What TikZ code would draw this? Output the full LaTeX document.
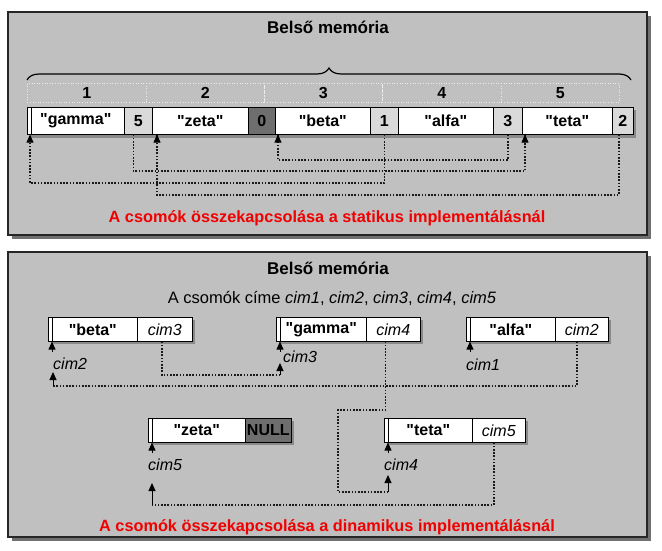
\documentclass[tikz,border=0pt]{standalone}
\usepackage{fontspec}
\setmainfont{Liberation Sans}[Ligatures=TeXOff]
\usetikzlibrary{arrows.meta,decorations.pathreplacing}
\definecolor{panelgray}{HTML}{C0C0C0}
\definecolor{panelshadow}{HTML}{707070}
\definecolor{boxshadow}{HTML}{8A8A8A}
\definecolor{ptrgray}{HTML}{DADADA}
\definecolor{nullgray}{HTML}{6E6E6E}
\definecolor{capred}{HTML}{F00000}
\tikzset{
  panel/.style={draw=black!85, line width=1.5pt, fill=panelgray},
  heading/.style={font=\bfseries\fontsize{17}{20}\selectfont},
  redcap/.style={text=capred, font=\bfseries\fontsize{16.3}{20}\selectfont},
  idx/.style={draw=white!70!panelgray, dotted, line width=0.6pt, anchor=north west,
    minimum height=19pt, inner sep=0pt, font=\bfseries\fontsize{16}{19}\selectfont},
  cell/.style={draw=black, line width=0.6pt, fill=white, anchor=north west,
    minimum height=27pt, inner sep=0pt, font=\bfseries\fontsize{16}{19}\selectfont},
  ptrcell/.style={cell, fill=ptrgray},
  nullcell/.style={cell, fill=nullgray},
  bcell/.style={cell, minimum height=24pt},
  baddr/.style={bcell, font=\itshape\fontsize{16}{19}\selectfont},
  addr/.style={anchor=west, inner sep=0pt, font=\itshape\fontsize{16}{19}\selectfont},
  link/.style={draw=black!90, line width=1.6pt, dash pattern=on 1.6pt off 1.6pt},
  ptrarrow/.style={line width=1pt, -{Triangle[length=8pt,width=7pt]}},
  brace/.style={decorate, decoration={brace, amplitude=12pt, aspect=0.5}, line width=1.2pt}
}
\begin{document}
\begin{tikzpicture}[x=1pt,y=-1pt]
\useasboundingbox (0,0) rectangle (662,551);
% the two panels
\fill[panelshadow] (12,16) rectangle (651,239);
\draw[panel] (8,12) rectangle (647,235);
\fill[panelshadow] (12,256) rectangle (651,541);
\draw[panel] (8,252) rectangle (647,537);

% static implementation
\node[heading] (ttl1) at (328,27) {Belső memória};
\draw[brace] (27,80) -- (631,80);
\node[idx, minimum width=119pt] (i1) at (27,83) {1};
\node[idx, minimum width=118pt] (i2) at (146,83) {2};
\node[idx, minimum width=118pt] (i3) at (264,83) {3};
\node[idx, minimum width=119pt] (i4) at (382,83) {4};
\node[idx, minimum width=118pt] (i5) at (501,83) {5};

\fill[boxshadow] (30,110) rectangle (636,138);
\node[cell, minimum width=97pt] (gamma) at (27,107) {"gamma"};
\node[ptrcell, minimum width=28pt] (p5) at (124,107) {5};
\node[cell, minimum width=96pt] (zeta) at (152,107) {"zeta"};
\node[nullcell, minimum width=27pt] (p0) at (248,107) {0};
\node[cell, minimum width=95pt] (beta) at (275,107) {"beta"};
\node[ptrcell, minimum width=28pt] (p1) at (370,107) {1};
\node[cell, minimum width=95pt] (alfa) at (398,107) {"alfa"};
\node[ptrcell, minimum width=29pt] (p3) at (493,107) {3};
\node[cell, minimum width=90pt] (teta) at (522,107) {"teta"};
\node[ptrcell, minimum width=21pt] (p2) at (612,107) {2};
\draw[line width=0.6pt] ([xshift=4pt]gamma.north west) -- ([xshift=4pt]gamma.south west);

\coordinate (tgamma) at ([xshift=3pt]gamma.south west);
\coordinate (tzeta) at ([xshift=5pt]zeta.south west);
\coordinate (tbeta) at ([xshift=3pt]beta.south west);
\coordinate (tteta) at ([xshift=3pt]teta.south west);
\draw[link] ([xshift=-5pt]p5.south) -- ([xshift=-5pt]p5.south |- 0,171) -| (tteta);
\draw[link] (p1.south) -- (p1.south |- 0,183) -| (tgamma);
\draw[link] (p3.south) -- (p3.south |- 0,160) -| (tbeta);
\draw[link] ([xshift=-4pt]p2.south) -- ([xshift=-4pt]p2.south |- 0,195) -| (tzeta);
\foreach \t in {tgamma,tzeta,tbeta,tteta}
  \draw[ptrarrow] ([yshift=-4pt]\t) -- (\t);
\node[redcap] (cap1) at (327,218) {A csomók összekapcsolása a statikus implementálásnál};

% dynamic implementation
\node[heading] (ttl2) at (328,268) {Belső memória};
\node[font=\fontsize{16.5}{19}\selectfont] (sub2) at (332,298)
  {A csomók címe \textit{cim1}, \textit{cim2}, \textit{cim3}, \textit{cim4}, \textit{cim5}};

\fill[boxshadow] (51,320) rectangle (195,344);
\node[bcell, minimum width=89pt] (bbeta) at (48,317) {"beta"};
\node[baddr, minimum width=55pt] (pbeta) at (137,317) {cim3};
\fill[boxshadow] (279,320) rectangle (423,344);
\node[bcell, minimum width=90pt] (bgamma) at (276,317) {"gamma"};
\node[baddr, minimum width=54pt] (pgamma) at (366,317) {cim4};
\fill[boxshadow] (469,320) rectangle (611,344);
\node[bcell, minimum width=89pt] (balfa) at (466,317) {"alfa"};
\node[baddr, minimum width=53pt] (palfa) at (555,317) {cim2};
\fill[boxshadow] (151,421) rectangle (294,445);
\node[bcell, minimum width=97pt] (bzeta) at (148,418) {"zeta"};
\node[nullcell, minimum height=24pt, minimum width=46pt] (pzeta) at (245,418) {NULL};
\fill[boxshadow] (387,421) rectangle (528,445);
\node[bcell, minimum width=88pt] (bteta) at (384,418) {"teta"};
\node[baddr, minimum width=53pt] (pteta) at (472,418) {cim5};
\foreach \b in {bbeta,bgamma,balfa,bzeta,bteta}
  \draw[line width=0.6pt] ([xshift=4pt]\b.north west) -- ([xshift=4pt]\b.south west);

\node[addr] (c2) at (53,364) {cim2};
\node[addr] (c3) at (283,357) {cim3};
\node[addr] (c1) at (466,365) {cim1};
\node[addr] (c5) at (148,465) {cim5};
\node[addr] (c4) at (384,465) {cim4};
\foreach \b in {bbeta,bgamma,balfa,bzeta,bteta}
  \draw[ptrarrow] ([xshift=4pt,yshift=-10pt]\b.south west) -- ([xshift=4pt]\b.south west);

\coordinate (s2) at (53,386);  \coordinate (t2) at (53,372);
\coordinate (s3) at (280,375); \coordinate (t3) at (280,363);
\coordinate (s4) at (388,492); \coordinate (t4) at (388,475);
\coordinate (s5) at (152,505); \coordinate (t5) at (152,483);
\draw[link] ([xshift=-5pt]palfa.south) |- (s2);
\draw[link] ([xshift=-3pt]pbeta.south) |- (s3);
\draw[link] ([xshift=-8pt]pgamma.south) |- (338,410) |- (s4);
\draw[link] ([xshift=-5pt]pteta.south) |- (s5);
\draw[ptrarrow] (s2) -- (t2);
\draw[ptrarrow] (s3) -- (t3);
\draw[ptrarrow] (s4) -- (t4);
\draw[ptrarrow] (s5) -- (t5);
\node[redcap] (cap2) at (327,527) {A csomók összekapcsolása a dinamikus implementálásnál};
\end{tikzpicture}
\end{document}
